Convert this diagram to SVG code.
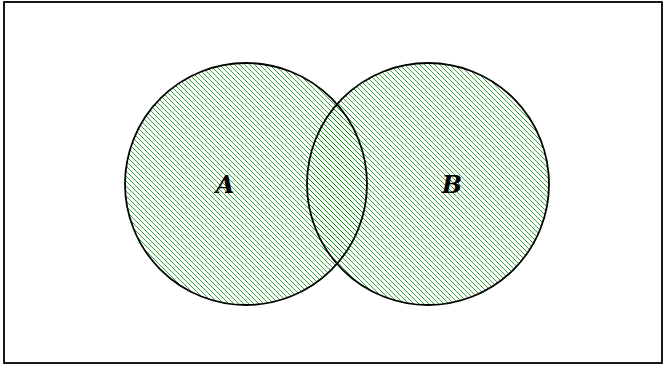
<svg xmlns="http://www.w3.org/2000/svg" width="663" height="365" viewBox="0 0 663 365">
  <defs>
    <pattern id="hatch" patternUnits="userSpaceOnUse" width="5" height="5">
      <path d="M-1,-1 L6,6 M-1,4 L1,6 M4,-1 L6,1" stroke="#009000" stroke-width="0.8" fill="none"/>
    </pattern>
  </defs>
  <style>
    .set { fill: url(#hatch); stroke: none; }
    .outline { fill: none; stroke: #000; stroke-width: 1.8; }
    .lbl { font-family: "DejaVu Serif", "Liberation Serif", serif; font-style: italic; font-weight: bold; font-size: 24px; fill: #000; text-anchor: middle; }
    .frame { fill: #fff; stroke: #000; stroke-width: 1.8; }
  </style>
  <rect class="frame" x="4" y="2" width="658" height="361"/>
  <g id="setA">
    <circle class="set" cx="246" cy="184" r="121"/>
    <text class="lbl" x="225" y="193">A</text>
  </g>
  <g id="setB">
    <circle class="set" cx="428" cy="184" r="121"/>
    <text class="lbl" x="452" y="193">B</text>
  </g>
  <g id="outlines">
    <circle class="outline" cx="246" cy="184" r="121"/>
    <circle class="outline" cx="428" cy="184" r="121"/>
  </g>
  <g id="connectors"></g>
</svg>
